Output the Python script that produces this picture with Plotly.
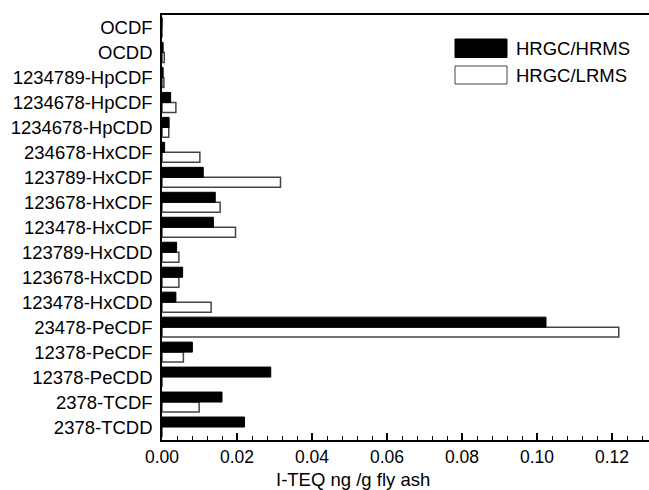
import plotly.graph_objects as go

categories = ["2378-TCDD", "2378-TCDF", "12378-PeCDD", "12378-PeCDF", "23478-PeCDF",
              "123478-HxCDD", "123678-HxCDD", "123789-HxCDD", "123478-HxCDF",
              "123678-HxCDF", "123789-HxCDF", "234678-HxCDF", "1234678-HpCDD",
              "1234678-HpCDF", "1234789-HpCDF", "OCDD", "OCDF"]
hrms = [0.022, 0.016, 0.029, 0.0081, 0.1024,
        0.0037, 0.0055, 0.0039, 0.0137,
        0.0142, 0.011, 0.0007, 0.0019,
        0.0023, 0.0003, 0.0003, 0.0]
lrms = [0.0, 0.0099, 0.0, 0.0057, 0.1218,
        0.0131, 0.0045, 0.0045, 0.0196,
        0.0155, 0.0316, 0.0101, 0.0018,
        0.0037, 0.0005, 0.0006, 0.0]
series_names = ["HRGC/HRMS", "HRGC/LRMS"]
x_ticks = [0.0, 0.02, 0.04, 0.06, 0.08, 0.10, 0.12]
x_title = "I-TEQ ng /g fly ash"

FONT = "Liberation Sans, Arial, sans-serif"
L, T, B = 162, 15, 50
PW, PH = 649 - L, 490 - T - B

fig = go.Figure()
# first trace sits lower in each group for horizontal bars
fig.add_trace(go.Bar(y=categories, x=lrms, orientation="h", name=series_names[1],
                     marker=dict(color="white", line=dict(color="#444", width=1.5)),
                     showlegend=False))
fig.add_trace(go.Bar(y=categories, x=hrms, orientation="h", name=series_names[0],
                     marker=dict(color="black", line=dict(color="black", width=1)),
                     showlegend=False))

def px_x(p):
    return (p - L) / PW

def px_y(p):
    return (T + PH - p) / PH

# legend drawn as shapes + text
fig.add_shape(type="rect", xref="paper", yref="paper",
              x0=px_x(455), x1=px_x(507), y0=px_y(57.5), y1=px_y(39),
              fillcolor="black", line=dict(color="black", width=1))
fig.add_shape(type="rect", xref="paper", yref="paper",
              x0=px_x(455), x1=px_x(507), y0=px_y(84), y1=px_y(66),
              fillcolor="white", line=dict(color="#444", width=1))
fig.add_annotation(text=series_names[0], xref="paper", yref="paper",
                   x=px_x(514), y=px_y(48.5), xanchor="left", yanchor="middle",
                   showarrow=False, font=dict(size=18.5, color="black", family=FONT))
fig.add_annotation(text=series_names[1], xref="paper", yref="paper",
                   x=px_x(514), y=px_y(75), xanchor="left", yanchor="middle",
                   showarrow=False, font=dict(size=18.5, color="black", family=FONT))
# x-axis title
fig.add_annotation(text=x_title, xref="paper", yref="paper",
                   x=px_x(353), y=px_y(479), xanchor="center", yanchor="middle",
                   showarrow=False, font=dict(size=18.5, color="black", family=FONT))

fig.update_layout(
    template="none",
    width=649, height=490,
    margin=dict(l=L, r=0, t=T, b=B, pad=0),
    plot_bgcolor="white", paper_bgcolor="white",
    barmode="group", bargap=0.2, bargroupgap=0,
    font=dict(family=FONT, size=18, color="black"),
    xaxis=dict(range=[0, PW / 3750.0], tickvals=x_ticks, ticktext=[f"{v:.2f}" for v in x_ticks],
               ticks="inside", ticklen=7, tickwidth=1.5, tickcolor="black",
               minor=dict(dtick=0.004, ticks="inside", ticklen=4, tickwidth=1, tickcolor="black"),
               showline=True, linecolor="black", linewidth=1.5, mirror=True,
               showgrid=False, zeroline=False, automargin=False,
               tickfont=dict(size=17.5)),
    yaxis=dict(range=[-0.52, 16.5], showline=True, linecolor="black", linewidth=1.5,
               ticks="", showgrid=False, zeroline=False, ticklabelstandoff=4, automargin=False,
               tickfont=dict(size=18.5)),
)

fig.write_html("out.html", config={"displayModeBar": False},
               post_script="document.body.style.margin='0px';document.body.style.overflow='hidden';")
